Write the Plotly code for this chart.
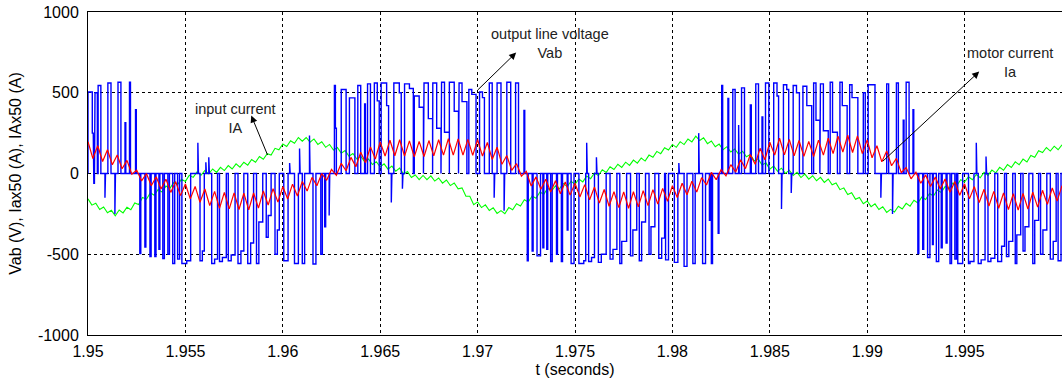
import plotly.graph_objects as go

# ---------------- data ----------------
T0 = 1.95  # start of the time window (s); all offsets below are in ms

# motor current Ia x50 (A), red, sampled every 0.25 ms from 0 to 50 ms
ia_step_ms = 0.25
ia_vals = [197, 93, 172, 74, 147, 54, 115, 29, 81, -4, 21, -46, 0, -76, -20, -96, -35, -117, -50, -137,
           -65, -157, -80, -178, -96, -199, -111, -216, -117, -219, -120, -223, -122, -225, -121, -214, -108, -195, -94, -177,
           -81, -158, -66, -139, -49, -109, -24, -76, 0, -42, 25, -11, 63, 17, 100, 42, 132, 67, 165, 90,
           196, 108, 206, 110, 209, 108, 202, 103, 199, 105, 204, 109, 209, 114, 215, 114, 214, 114, 211, 112,
           209, 108, 192, 87, 163, 57, 111, 19, 61, -16, 13, -77, -21, -97, -36, -115, -45, -125, -52, -134,
           -60, -145, -69, -163, -84, -183, -99, -203, -112, -211, -114, -215, -113, -207, -106, -199, -100, -189, -92, -172,
           -75, -149, -60, -132, -48, -115, -26, -71, 7, -38, 24, -15, 55, 9, 85, 30, 118, 57, 156, 85,
           194, 114, 218, 115, 211, 110, 204, 106, 199, 105, 207, 114, 219, 123, 231, 132, 237, 130, 233, 123,
           208, 97, 172, 72, 140, 48, 94, 5, 37, -33, 8, -60, -9, -80, -22, -96, -34, -116, -50, -135,
           -64, -157, -81, -180, -98, -201, -111, -215, -120, -224, -125, -227, -123, -220, -115, -208, -104, -191, -90, -171,
           -75]

# input current IA x50 (A), green, sampled every 0.2 ms from 0 to 50 ms
iA_step_ms = 0.2
iA_vals = [-157, -196, -184, -223, -207, -243, -228, -262, -226, -244, -209, -224, -182, -192, -149, -159, -120, -135, -99, -114,
           -78, -93, -55, -68, -36, -49, -11, -24, 10, -11, 19, -2, 28, 7, 38, 18, 49, 28, 60, 39,
           70, 52, 87, 70, 105, 88, 123, 114, 156, 147, 183, 167, 203, 187, 223, 200, 223, 194, 214, 180,
           197, 162, 180, 145, 161, 126, 142, 107, 124, 90, 107, 73, 90, 56, 73, 40, 60, 27, 46, 14,
           33, -4, 12, -25, -9, -38, -12, -38, -15, -47, -28, -60, -40, -75, -59, -95, -89, -141, -141, -193,
           -176, -211, -194, -229, -212, -247, -230, -249, -211, -225, -187, -201, -163, -177, -139, -153, -115, -128, -91, -109,
           -76, -95, -62, -81, -48, -67, -34, -52, -16, -32, 3, -13, 23, 6, 42, 25, 57, 38, 70, 50,
           83, 64, 96, 77, 114, 100, 137, 123, 160, 145, 180, 162, 197, 179, 214, 196, 231, 204, 221, 185,
           201, 166, 182, 147, 166, 133, 152, 119, 138, 104, 117, 78, 91, 52, 66, 27, 46, 14, 33, 1,
           20, -12, 7, -25, -4, -35, -14, -45, -24, -55, -34, -70, -59, -100, -89, -130, -119, -160, -149, -187,
           -170, -205, -188, -223, -206, -241, -222, -239, -203, -220, -185, -202, -166, -183, -146, -161, -124, -139, -102, -117,
           -80, -95, -59, -74, -38, -53, -20, -39, -6, -26, 7, -12, 21, 4, 38, 20, 55, 37, 72, 54,
           89, 71, 111, 100, 141, 130, 161, 139, 169, 147, 178]

# output line voltage Vab (V), blue: PWM pulses per half cycle
# (start ms, main-level width ms, main level V, second-level width ms, second level V)
vab_h0 = [(0.00, 0.22, 505, 0.05, 250), (0.30, 0.03, -60, 0, 0), (0.36, 0.12, 500, 0, 0),
          (0.52, 0.14, 545, 0, 0), (0.87, 0.03, -150, 0, 0), (1.02, 0.16, 560, 0, 0),
          (1.38, 0.03, -250, 0, 0), (1.54, 0.15, 565, 0, 0), (1.90, 0.04, 315, 0, 0),
          (2.13, 0.05, 565, 0, 0), (2.44, 0.04, 395, 0, 0)]
vab_h1 = [(2.66, 0.05, -495, 0, 0), (2.92, 0.05, -455, 0, 0), (3.18, 0.06, -515, 0, 0),
          (3.43, 0.06, -515, 0, 0), (3.64, 0.05, -470, 0, 0), (3.84, 0.08, -526, 0, 0),
          (4.10, 0.08, -500, 0, 0), (4.35, 0.10, -557, 0, 0), (4.60, 0.10, -530, 0, 0),
          (4.82, 0.25, -557, 0.20, -540), (5.64, 0.03, 190, 0, 0), (5.75, 0.12, -540, 0.10, -480),
          (6.05, 0.03, 70, 0, 0), (6.20, 0.03, 100, 0, 0), (6.35, 0.15, -557, 0.15, -530),
          (6.75, 0.15, -545, 0.20, -520), (7.20, 0.15, -540, 0.20, -505), (7.70, 0.15, -557, 0.15, -480),
          (8.20, 0.15, -557, 0.15, -430), (8.65, 0.12, -557, 0.20, -300), (9.15, 0.10, -395, 0.15, -260),
          (9.60, 0.12, -500, 0.10, -350), (10.05, 0.22, -540, 0, 0), (10.35, 0.03, 65, 0, 0),
          (10.60, 0.20, -557, 0, 0), (10.86, 0.03, 155, 0, 0), (11.00, 0.12, -557, 0, 0),
          (11.37, 0.03, 235, 0, 0), (11.55, 0.15, -560, 0, 0), (11.95, 0.08, -500, 0, 0),
          (12.15, 0.05, -330, 0, 0), (12.38, 0.03, -260, 0, 0)]
vab_h2 = [(12.65, 0.05, 545, 0.05, 280), (13.00, 0.25, 520, 0, 0), (13.42, 0.28, 468, 0, 0),
          (13.85, 0.15, 545, 0, 0), (14.20, 0.04, 430, 0, 0), (14.35, 0.15, 555, 0, 0),
          (14.70, 0.15, 560, 0.10, 450), (15.05, 0.28, 560, 0.10, 420), (15.57, 0.03, -180, 0, 0),
          (15.70, 0.28, 560, 0.10, 500), (16.14, 0.03, -95, 0, 0), (16.25, 0.25, 555, 0.20, 526),
          (16.75, 0.25, 480, 0.22, 410), (17.25, 0.22, 560, 0.22, 340), (17.70, 0.20, 560, 0.22, 280),
          (18.15, 0.15, 565, 0.25, 255), (18.55, 0.25, 565, 0.22, 385), (19.05, 0.15, 560, 0.25, 445),
          (19.55, 0.15, 520, 0.22, 490), (20.10, 0.15, 505, 0.10, 470), (20.60, 0.15, 560, 0, 0),
          (20.85, 0.03, -150, 0, 0), (21.00, 0.20, 560, 0, 0), (21.36, 0.03, -230, 0, 0),
          (21.50, 0.20, 565, 0, 0), (21.95, 0.15, 560, 0, 0), (22.38, 0.04, 390, 0, 0)]
vab_h3 = [(22.55, 0.05, -540, 0, 0), (22.80, 0.05, -480, 0, 0), (23.05, 0.18, -510, 0, 0),
          (23.35, 0.05, -460, 0, 0), (23.55, 0.05, -470, 0, 0), (23.75, 0.08, -545, 0, 0),
          (24.05, 0.05, -500, 0, 0), (24.30, 0.06, -545, 0, 0), (24.60, 0.04, -350, 0, 0),
          (24.80, 0.15, -557, 0, 0), (25.20, 0.25, -557, 0.10, -540), (25.60, 0.03, 190, 0, 0),
          (25.70, 0.15, -545, 0.15, -520), (26.10, 0.03, 100, 0, 0), (26.20, 0.15, -550, 0.25, -500),
          (26.80, 0.15, -530, 0.20, -470), (27.30, 0.10, -557, 0.25, -420), (27.85, 0.12, -510, 0.20, -350),
          (28.30, 0.12, -540, 0.20, -300), (28.80, 0.10, -500, 0.20, -330), (29.30, 0.15, -525, 0.15, -400),
          (29.65, 0.15, -535, 0, 0), (30.10, 0.18, -550, 0, 0), (30.33, 0.03, 65, 0, 0),
          (30.60, 0.15, -575, 0, 0), (31.05, 0.12, -557, 0, 0), (31.35, 0.03, 250, 0, 0),
          (31.55, 0.15, -557, 0, 0), (31.90, 0.05, -290, 0, 0), (32.00, 0.06, -557, 0, 0),
          (32.35, 0.04, -370, 0, 0)]
vab_h4 = [(32.53, 0.05, 545, 0, 0), (32.85, 0.04, 465, 0, 0), (33.10, 0.12, 520, 0, 0),
          (33.40, 0.03, 300, 0, 0), (33.55, 0.15, 530, 0, 0), (34.00, 0.05, 425, 0, 0),
          (34.28, 0.14, 555, 0, 0), (34.60, 0.04, 350, 0, 0), (34.78, 0.17, 560, 0, 0),
          (35.20, 0.17, 560, 0.08, 480), (35.60, 0.03, -220, 0, 0), (35.70, 0.17, 550, 0.10, 520),
          (36.10, 0.03, -120, 0, 0), (36.20, 0.17, 545, 0.15, 500), (36.70, 0.20, 540, 0.25, 420),
          (37.25, 0.12, 560, 0.20, 330), (37.60, 0.15, 555, 0.25, 265), (38.10, 0.12, 565, 0.25, 255),
          (38.60, 0.12, 565, 0.25, 420), (39.10, 0.12, 550, 0.30, 470), (39.80, 0.10, 500, 0, 0),
          (40.05, 0.35, 550, 0, 0), (40.70, 0.03, -150, 0, 0), (41.00, 0.10, 555, 0, 0),
          (41.30, 0.03, -250, 0, 0), (41.50, 0.10, 560, 0, 0), (41.85, 0.04, 330, 0, 0),
          (42.00, 0.15, 565, 0, 0), (42.35, 0.04, 395, 0, 0)]
vab_h5 = [(42.60, 0.05, -495, 0, 0), (42.85, 0.05, -470, 0, 0), (43.10, 0.12, -520, 0, 0),
          (43.35, 0.04, -440, 0, 0), (43.55, 0.12, -545, 0, 0), (43.80, 0.05, -460, 0, 0),
          (44.05, 0.05, -430, 0, 0), (44.25, 0.08, -557, 0, 0), (44.50, 0.08, -530, 0, 0),
          (44.65, 0.25, -557, 0, 0), (45.20, 0.08, -557, 0.20, -545), (45.60, 0.03, 190, 0, 0),
          (45.70, 0.15, -557, 0.20, -535), (46.10, 0.03, 105, 0, 0), (46.20, 0.15, -545, 0.20, -525),
          (46.70, 0.20, -545, 0.15, -450), (47.15, 0.12, -515, 0.20, -420), (47.60, 0.08, -557, 0.20, -380),
          (48.00, 0.10, -480, 0.20, -330), (48.50, 0.10, -557, 0.20, -290), (48.90, 0.12, -500, 0.20, -350),
          (49.40, 0.15, -530, 0.15, -420), (49.80, 0.15, -540, 0, 0)]

x_tickvals = [1.95, 1.955, 1.96, 1.965, 1.97, 1.975, 1.98, 1.985, 1.99, 1.995, 2.0]
x_ticktext = ["1.95", "1.955", "1.96", "1.965", "1.97", "1.975", "1.98", "1.985", "1.99", "1.995", "2"]
y_tickvals = [-1000, -500, 0, 500, 1000]
y_ticktext = ["-1000", "-500", "0", "500", "1000"]

# ---------------- build traces ----------------
def ms_to_t(ms):
    return T0 + ms / 1000.0

ia_t = [ms_to_t(i * ia_step_ms) for i in range(len(ia_vals))]
iA_t = [ms_to_t(i * iA_step_ms) for i in range(len(iA_vals))]

pulses = sorted(vab_h0 + vab_h1 + vab_h2 + vab_h3 + vab_h4 + vab_h5, key=lambda p: p[0])
bx, by = [ms_to_t(0.0)], [0.0]
for s, hw, hv, mw, mv in pulses:
    bx += [ms_to_t(s), ms_to_t(s), ms_to_t(s + hw)]
    by += [0, hv, hv]
    if mw > 0:
        bx += [ms_to_t(s + hw), ms_to_t(s + hw + mw), ms_to_t(s + hw + mw)]
        by += [mv, mv, 0]
    else:
        bx += [ms_to_t(s + hw)]
        by += [0]
bx.append(ms_to_t(50.0))
by.append(0)

FONT = "Arial, 'Liberation Sans', Helvetica, sans-serif"

fig = go.Figure()
fig.add_trace(go.Scatter(x=iA_t, y=iA_vals, mode="lines",
                         line=dict(color="#00FF00", width=1.1), hoverinfo="skip"))
fig.add_trace(go.Scatter(x=bx, y=by, mode="lines",
                         line=dict(color="#0000FF", width=1.4), hoverinfo="skip"))
fig.add_trace(go.Scatter(x=ia_t, y=ia_vals, mode="lines",
                         line=dict(color="#FF0000", width=1.2), hoverinfo="skip"))

# text labels
labels = [
    (1.95758, 343, "input current<br>IA"),
    (1.97372, 805, "output line voltage<br>Vab"),
    (1.99734, 690, "motor current<br>Ia"),
]
for x, y, txt in labels:
    fig.add_annotation(x=x, y=y, text=txt, showarrow=False,
                       font=dict(family=FONT, size=14.5, color="#222222"),
                       xanchor="center", yanchor="middle", align="center")

# arrows: (head_x, head_y, tail_x, tail_y)
arrows = [
    (1.95838, 359, 1.95925, 105),
    (1.97198, 749, 1.96993, 508),
    (1.99575, 631, 1.99073, 68),
]
for hx, hy, tx, ty in arrows:
    fig.add_annotation(x=hx, y=hy, ax=tx, ay=ty, xref="x", yref="y", axref="x", ayref="y",
                       text="", showarrow=True, arrowhead=2, arrowsize=1.4,
                       arrowwidth=1, arrowcolor="#000000")

fig.update_layout(
    width=1062, height=383,
    margin=dict(l=88, r=0, t=12, b=48),
    paper_bgcolor="white", plot_bgcolor="white",
    showlegend=False,
    font=dict(family=FONT, size=16, color="#000000"),
    hovermode=False,
)
fig.update_xaxes(range=[1.95, 2.0], tickvals=x_tickvals, ticktext=x_ticktext,
                 showgrid=True, gridcolor="#000000", gridwidth=1, griddash="3px,3px",
                 zeroline=False, showline=True, linecolor="#000000", linewidth=1, mirror=True,
                 ticks="", ticklabelstandoff=2,
                 title=dict(text="t (seconds)", standoff=4, font=dict(size=16)),
                 tickfont=dict(size=16))
fig.update_yaxes(range=[-1000, 1000], tickvals=y_tickvals, ticktext=y_ticktext,
                 showgrid=True, gridcolor="#000000", gridwidth=1, griddash="3px,3px",
                 zeroline=False, showline=True, linecolor="#000000", linewidth=1, mirror=True,
                 ticks="", ticklabelstandoff=5,
                 title=dict(text="Vab (V), Iax50 (A), IAx50 (A)", standoff=12, font=dict(size=16)),
                 tickfont=dict(size=16))

fig.write_html("out.html")
